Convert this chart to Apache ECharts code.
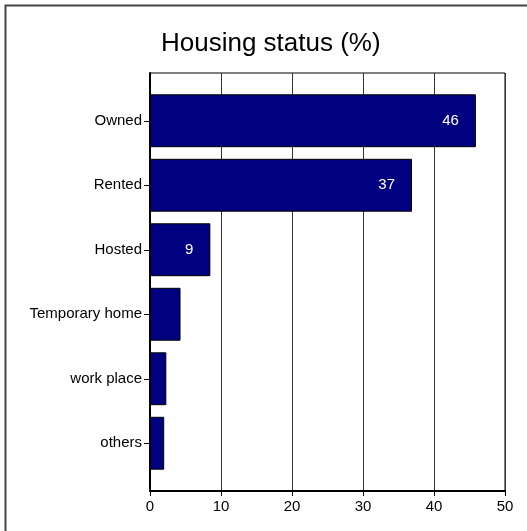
<!DOCTYPE html>
<html>
<head>
<meta charset="utf-8">
<script src="https://cdn.jsdelivr.net/npm/echarts@6/dist/echarts.min.js"></script>
<style>
  html, body { margin: 0; padding: 0; background: #fff; }
  #chart { width: 527px; height: 531px; }
</style>
</head>
<body>
<div id="chart"></div>
<script>
const categories = ['Owned', 'Rented', 'Hosted', 'Temporary home', 'work place', 'others']
const values = [45.9, 36.9, 8.5, 4.3, 2.3, 2.0]
const shownLabels = ['46', '37', '9', '', '', '']
const xTicks = [0, 10, 20, 30, 40, 50]

const font = 'Liberation Sans, Arial, sans-serif'
const chart = echarts.init(document.getElementById('chart'))

const option = {
  animation: false,
  backgroundColor: '#fff',
  textStyle: { fontFamily: font },
  title: {
    text: 'Housing status (%)',
    left: 156,
    top: 26,
    textStyle: { fontSize: 26, fontWeight: 'normal', color: '#000', fontFamily: font }
  },
  graphic: [{
    type: 'polyline',
    shape: { points: [[5.5, 540], [5.5, 5.5], [540, 5.5]] },
    style: { stroke: '#444', lineWidth: 2, fill: null },
    silent: true
  }],
  grid: [
    // frame: border, split lines and x labels span the full plot
    { left: 150, right: 22, top: 73, bottom: 40, show: true, borderColor: '#000', borderWidth: 1 },
    // bars: categories sit inset from the frame top and bottom
    { left: 150, right: 22, top: 88.5, bottom: 55.5 }
  ],
  xAxis: [{
    gridIndex: 0,
    type: 'value',
    min: xTicks[0],
    max: xTicks[xTicks.length - 1],
    interval: 10,
    axisLine: { show: true, lineStyle: { color: '#000', width: 2 } },
    axisTick: { show: true, length: 5, lineStyle: { color: '#000' } },
    axisLabel: { color: '#000', fontSize: 15, margin: 8 },
    splitLine: { show: true, lineStyle: { color: '#333', width: 1 } }
  }, {
    gridIndex: 1,
    type: 'value',
    min: xTicks[0],
    max: xTicks[xTicks.length - 1],
    show: false
  }],
  yAxis: [{
    gridIndex: 0,
    type: 'value',
    min: 0,
    max: 1,
    axisLine: { show: true, lineStyle: { color: '#000', width: 2 } },
    axisTick: { show: false },
    axisLabel: { show: false },
    splitLine: { show: false }
  }, {
    gridIndex: 1,
    type: 'category',
    inverse: true,
    data: categories,
    axisLine: { show: false },
    axisTick: { show: true, alignWithLabel: true, length: 6, lineStyle: { color: '#000' } },
    axisLabel: { color: '#000', fontSize: 15, margin: 8 }
  }],
  series: [{
    type: 'bar',
    xAxisIndex: 1,
    yAxisIndex: 1,
    data: values,
    barWidth: '82%',
    itemStyle: { color: '#000080', borderColor: '#000', borderWidth: 1 },
    label: {
      show: true,
      position: 'insideRight',
      distance: 17,
      color: '#fff',
      fontSize: 15,
      formatter: (p) => shownLabels[p.dataIndex]
    }
  }]
}

chart.setOption(option)
</script>
</body>
</html>
